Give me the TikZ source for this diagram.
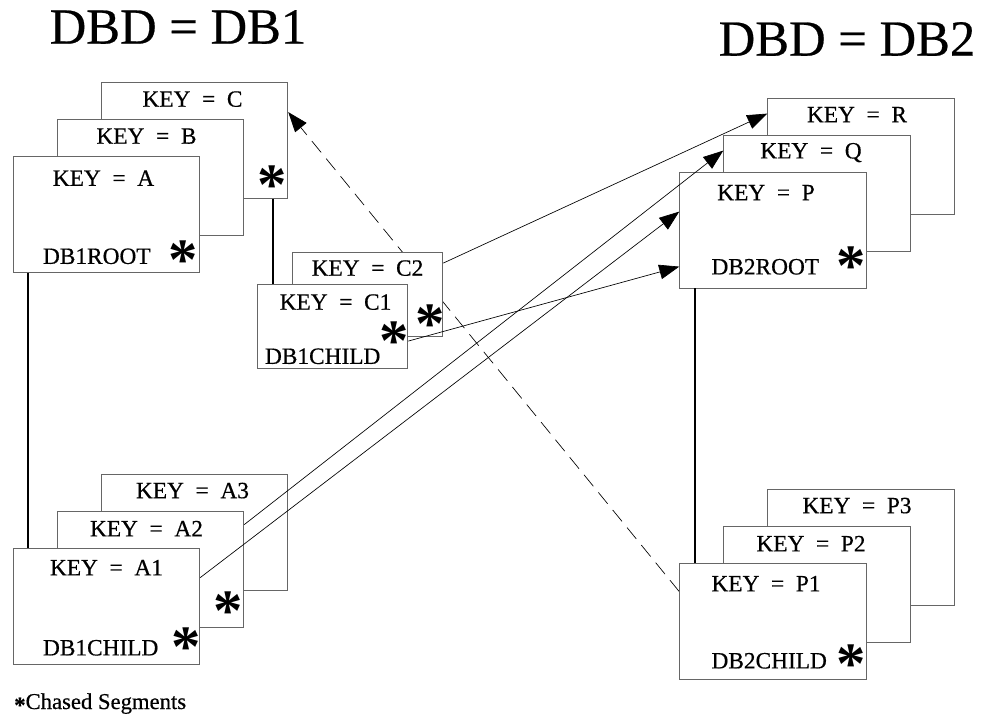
\documentclass[tikz,border=0pt]{standalone}
\usepackage{fontspec}
\setmainfont{Liberation Serif}
\newfontfamily\heavyserif{Liberation Serif}[FakeBold=0.5]
\usetikzlibrary{arrows.meta, calc, backgrounds}

\newcommand{\keyis}[1]{KEY\enspace=\enspace#1}

\begin{document}
\begin{tikzpicture}[x=0.75pt, y=-0.75pt, >={Triangle[length=15pt, width=11pt]},
    seg/.style={draw=black!60, fill=white, line width=0.6pt, minimum width=140pt, minimum height=87pt, inner sep=0pt},
    small seg/.style={seg, minimum width=113pt, minimum height=63pt},
    keytext/.style={font=\heavyserif\fontsize{17.5}{20}\selectfont, inner sep=0pt},
    chased/.style={font=\fontsize{44}{44}\selectfont\bfseries, inner sep=0pt, anchor=north},
    title/.style={font=\heavyserif\fontsize{38}{40}\selectfont, inner sep=0pt},
    twin/.style={line width=1.6pt},
    ptr/.style={->, line width=0.5pt}]

    \useasboundingbox (0,0) rectangle (981,721);

    \node[title] (db1) at (178,27) {DBD = DB1};
    \node[title] (db2) at (847,39) {DBD = DB2};

    % DB1 roots and their children
    \coordinate (A0) at (106.5,214.5);
    \node[seg] (C) at ($(A0)+(88,-74)$) {};
    \node[seg] (B) at ($(A0)+(44,-37)$) {};
    \node[seg] (A) at (A0) {};

    \coordinate (C10) at (332.5,326.5);
    \node[small seg] (C2) at ($(C10)+(35,-32)$) {};
    \node[small seg] (C1) at (C10) {};

    \coordinate (A10) at (106.5,606);
    \node[seg] (A3) at ($(A10)+(88,-74)$) {};
    \node[seg] (A2) at ($(A10)+(44,-37)$) {};
    \node[seg] (A1) at (A10) {};

    % DB2 roots and their children
    \coordinate (P0) at (773,230);
    \node[seg] (R) at ($(P0)+(88,-74)$) {};
    \node[seg] (Q) at ($(P0)+(44,-37)$) {};
    \node[seg] (P) at (P0) {};

    \coordinate (P10) at (773,621);
    \node[seg] (P3) at ($(P10)+(88,-74)$) {};
    \node[seg] (P2) at ($(P10)+(44,-37)$) {};
    \node[seg] (P1) at (P10) {};

    \node[keytext] (C-key) at ($(C.north)+(-2,17)$) {\keyis{C}};
    \node[keytext] (B-key) at ($(B.north)+(-4,17)$) {\keyis{B}};
    \node[keytext] (A-key) at ($(A.north)+(-3,22)$) {\keyis{A}};
    \node[keytext, anchor=base west] (A-name) at ($(A.south west)+(30,-9)$) {DB1ROOT};

    \node[keytext] (C2-key) at ($(C2.north)+(0,16)$) {\keyis{C2}};
    \node[keytext] (C1-key) at ($(C1.north)+(3,18)$) {\keyis{C1}};
    \node[keytext, anchor=base west] (C1-name) at ($(C1.south west)+(8,-5)$) {DB1CHILD};

    \node[keytext] (A3-key) at ($(A3.north)+(-2,17)$) {\keyis{A3}};
    \node[keytext] (A2-key) at ($(A2.north)+(-4,18)$) {\keyis{A2}};
    \node[keytext] (A1-key) at ($(A1.north)+(0,20)$) {\keyis{A1}};
    \node[keytext, anchor=base west] (A1-name) at ($(A1.south west)+(30,-9)$) {DB1CHILD};

    \node[keytext] (R-key) at ($(R.north)+(-4,17)$) {\keyis{R}};
    \node[keytext] (Q-key) at ($(Q.north)+(-6,18)$) {\keyis{Q}};
    \node[keytext] (P-key) at ($(P.north)+(-7,21)$) {\keyis{P}};
    \node[keytext, anchor=base west] (P-name) at ($(P.south west)+(32,-14)$) {DB2ROOT};

    \node[keytext] (P3-key) at ($(P3.north)+(-4,17)$) {\keyis{P3}};
    \node[keytext] (P2-key) at ($(P2.north)+(-6,18)$) {\keyis{P2}};
    \node[keytext] (P1-key) at ($(P1.north)+(-7,21)$) {\keyis{P1}};
    \node[keytext, anchor=base west] (P1-name) at ($(P1.south west)+(32,-11)$) {DB2CHILD};

    \node[chased] (C-star) at ($(C.south east)+(-16,-33)$) {*};
    \node[chased] (A-star) at ($(A.south east)+(-17,-32)$) {*};
    \node[chased] (C2-star) at ($(C2.south east)+(-13,-32)$) {*};
    \node[chased] (C1-star) at ($(C1.south east)+(-14,-47)$) {*};
    \node[chased] (A2-star) at ($(A2.south east)+(-16,-36)$) {*};
    \node[chased] (A1-star) at ($(A1.south east)+(-14,-37)$) {*};
    \node[chased] (P-star) at ($(P.south east)+(-16,-42)$) {*};
    \node[chased] (P1-star) at ($(P1.south east)+(-16,-35)$) {*};

    \node[font=\heavyserif\fontsize{17}{20}\selectfont, inner sep=0pt, anchor=base west] (legend) at (14,709)
        {\raisebox{-.35ex}{\bfseries *}Chased Segments};

    % parent to child
    \coordinate (A-foot) at ($(A.south west)+(15,0)$);
    \coordinate (C-foot) at ($(C.south east)+(-15,0)$);
    \coordinate (P-foot) at ($(P.south west)+(16,0)$);
    \draw[twin] (A-foot) -- (A-foot |- A1.north);
    \draw[twin] (C-foot) -- (C-foot |- C1.north);
    \draw[twin] (P-foot) -- (P-foot |- P1.north);

    % logical pointers
    \draw[ptr] ($(C2.north east)+(0,11)$) -- ($(R.north west)+(0,16)$);
    \draw[ptr] ($(C1.north east)+(0,57)$) -- ($(P.north west)+(0,95)$);
    \draw[ptr] ($(A2.north east)+(0,14)$) -- ($(Q.north west)+(0,16)$);
    \draw[ptr] ($(A1.north east)+(0,30)$) -- ($(P.north west)+(0,40)$);

    \begin{scope}[on background layer]
        \draw[ptr, dash pattern=on 11pt off 6pt] ($(P1.north west)+(0,29)$) -- ($(C.north east)+(0,30)$);
    \end{scope}

\end{tikzpicture}
\end{document}
